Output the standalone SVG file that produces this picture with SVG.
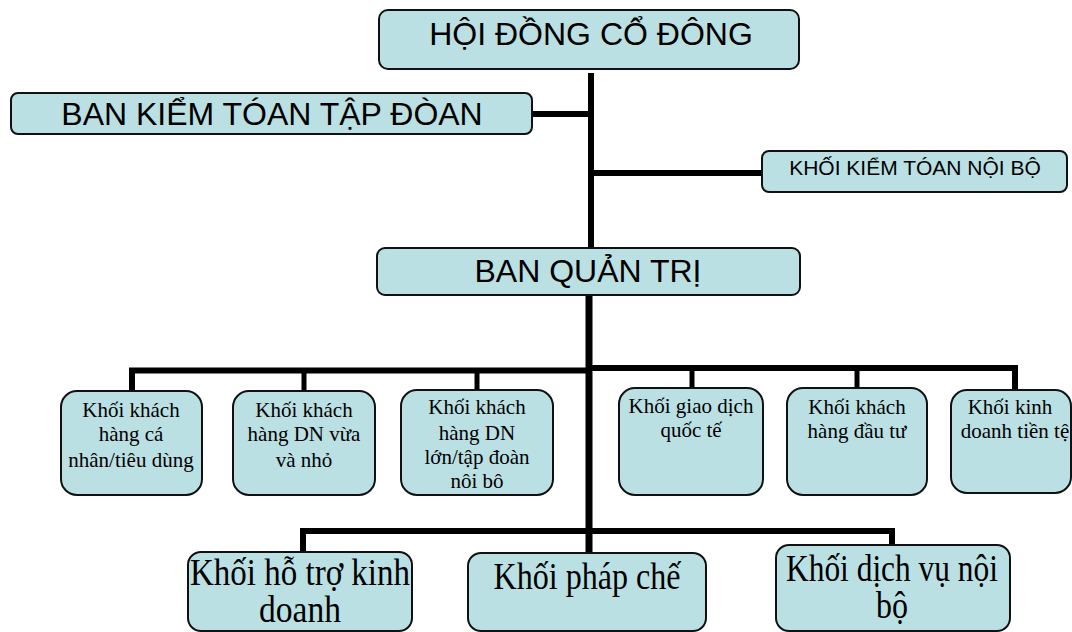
<svg xmlns="http://www.w3.org/2000/svg" width="1072" height="632" viewBox="0 0 1072 632">
  <style>
    .box { fill: #bbe0e3; stroke: #111; stroke-width: 2; }
    .sans { font-family: "Liberation Sans", Arial, sans-serif; fill: #000; text-anchor: middle; }
    .serif { font-family: "Liberation Serif", "Times New Roman", serif; fill: #000; text-anchor: middle; }
    .big { font-size: 32px; }
    .mid { font-size: 21px; }
    .unit { font-size: 21px; }
    .dept { font-size: 37px; }
    .line { fill: none; stroke: #000; stroke-linejoin: miter; stroke-linecap: butt; }
  </style>
  <rect width="1072" height="632" fill="#fff"/>

  <!-- connectors -->
  <g id="connectors">
    <path class="line" stroke-width="6" d="M591,73 V248"/>
    <path class="line" stroke-width="6" d="M532,114 H591"/>
    <path class="line" stroke-width="6" d="M591,173 H762"/>
    <path class="line" stroke-width="7" d="M589,295 V553"/>
    <path class="line" stroke-width="6" d="M132,391 V370.5 H589"/>
    <path class="line" stroke-width="6" d="M589,368 H1015 V390"/>
    <path class="line" stroke-width="5" d="M304,370 V391"/>
    <path class="line" stroke-width="5" d="M477,370 V390"/>
    <path class="line" stroke-width="5" d="M692,368 V388"/>
    <path class="line" stroke-width="5" d="M857,368 V388"/>
    <path class="line" stroke-width="6" d="M303,552 V531 H892 V545"/>
  </g>

  <!-- top level -->
  <g id="hoi-dong-co-dong">
    <rect class="box" x="379" y="10" width="420" height="59" rx="9"/>
    <text class="sans big" x="591" y="45">HỘI ĐỒNG CỔ ĐÔNG</text>
  </g>
  <g id="ban-kiem-toan-tap-doan">
    <rect class="box" x="11" y="93" width="521" height="41" rx="7"/>
    <text class="sans big" x="272" y="125">BAN KIỂM TÓAN TẬP ĐÒAN</text>
  </g>
  <g id="khoi-kiem-toan-noi-bo">
    <rect class="box" x="762" y="151" width="305" height="41" rx="7"/>
    <text class="sans mid" x="915" y="175">KHỐI KIỂM TÓAN NỘI BỘ</text>
  </g>
  <g id="ban-quan-tri">
    <rect class="box" x="377" y="248" width="423" height="47" rx="8"/>
    <text class="sans big" x="588" y="282">BAN QUẢN TRỊ</text>
  </g>

  <!-- business units -->
  <g id="khoi-ca-nhan">
    <rect class="box" x="61" y="391" width="141" height="104" rx="16"/>
    <text class="serif unit" x="131" y="417">Khối khách</text>
    <text class="serif unit" x="131" y="441">hàng cá</text>
    <text class="serif unit" x="131" y="467">nhân/tiêu dùng</text>
  </g>
  <g id="khoi-dn-vua-nho">
    <rect class="box" x="233" y="391" width="142" height="104" rx="16"/>
    <text class="serif unit" x="304" y="417">Khối khách</text>
    <text class="serif unit" x="304" y="441">hàng DN vừa</text>
    <text class="serif unit" x="304" y="467">và nhỏ</text>
  </g>
  <g id="khoi-dn-lon">
    <rect class="box" x="401" y="390" width="152" height="105" rx="16"/>
    <text class="serif unit" x="477" y="414">Khối khách</text>
    <text class="serif unit" x="477" y="440">hàng DN</text>
    <text class="serif unit" x="477" y="464">lớn/tập đoàn</text>
    <text class="serif unit" x="477" y="488">nôi bô</text>
  </g>
  <g id="khoi-giao-dich-quoc-te">
    <rect class="box" x="619" y="388" width="144" height="107" rx="16"/>
    <text class="serif unit" x="691" y="413">Khối giao dịch</text>
    <text class="serif unit" x="691" y="437">quốc tế</text>
  </g>
  <g id="khoi-dau-tu">
    <rect class="box" x="787" y="388" width="140" height="107" rx="16"/>
    <text class="serif unit" x="857" y="414">Khối khách</text>
    <text class="serif unit" x="857" y="438">hàng đầu tư</text>
  </g>
  <g id="khoi-kinh-doanh-tien-te">
    <rect class="box" x="951" y="390" width="120" height="103" rx="16"/>
    <text class="serif unit" x="1010" y="414">Khối kinh</text>
    <text class="serif unit" x="1015" y="438">doanh tiền tệ</text>
  </g>

  <!-- support divisions -->
  <g id="khoi-ho-tro">
    <rect class="box" x="188" y="552" width="224" height="79" rx="13"/>
    <text class="serif dept" x="300" y="585" textLength="220" lengthAdjust="spacingAndGlyphs">Khối hỗ trợ kinh</text>
    <text class="serif dept" x="300" y="622" textLength="82" lengthAdjust="spacingAndGlyphs">doanh</text>
  </g>
  <g id="khoi-phap-che">
    <rect class="box" x="468" y="553" width="238" height="78" rx="13"/>
    <text class="serif dept" x="587" y="589" textLength="187" lengthAdjust="spacingAndGlyphs">Khối pháp chế</text>
  </g>
  <g id="khoi-dich-vu-noi-bo">
    <rect class="box" x="776" y="545" width="234" height="86" rx="13"/>
    <text class="serif dept" x="892" y="581" textLength="212" lengthAdjust="spacingAndGlyphs">Khối dịch vụ nội</text>
    <text class="serif dept" x="892" y="618" textLength="32" lengthAdjust="spacingAndGlyphs">bộ</text>
  </g>
</svg>
